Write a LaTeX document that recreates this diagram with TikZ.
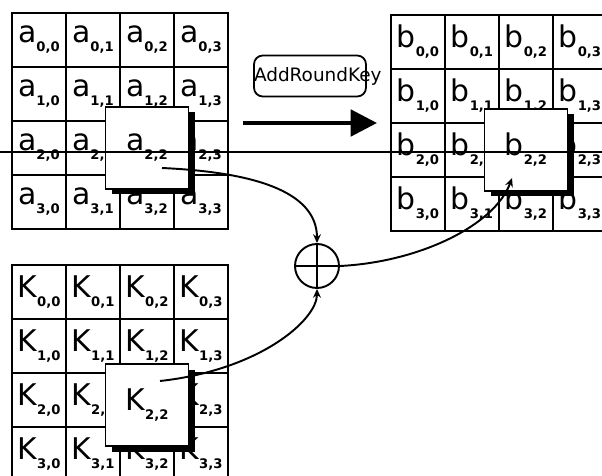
\documentclass[tikz,border=0pt]{standalone}
\usepackage{fontspec}
\setmainfont{DejaVu Sans}
\usetikzlibrary{positioning, arrows.meta, shadows}

\newcommand{\cellname}[2]{#1\raisebox{-0.55ex}{\fontsize{7.5}{8}\selectfont\bfseries #2}}

\begin{document}
\begin{tikzpicture}[
        x=0.02cm, y=-0.02cm,
        cell/.style={rectangle, draw, line width=0.7pt, minimum size=1.08cm, inner sep=0pt, font=\fontsize{17}{18}\selectfont},
        pick/.style={rectangle, draw, fill=white, line width=1.1pt, minimum width=1.66cm, minimum height=1.64cm, inner sep=0pt, font=\fontsize{17}{18}\selectfont, drop shadow={shadow xshift=3.5pt, shadow yshift=-3pt, fill=black, opacity=1}},
        opbox/.style={rectangle, draw, line width=1pt, rounded corners=5pt, minimum width=2.24cm, minimum height=0.82cm, inner sep=0pt, font=\fontsize{10.5}{11}\selectfont},
        link/.style={line width=1.1pt, -{Stealth[length=5pt, width=4.5pt]}}
    ]
    \useasboundingbox (0,0) rectangle (602,476);
    \clip (0,0) rectangle (602,476);
    % state, result and round key (cell 2,2 lies under its pick box)
    \foreach \r in {0,...,3}
        \foreach \c in {0,...,3} {
            \ifnum\r\c=22
                \node[cell] (a\r\c) at (39+54*\c, 40+54*\r) {};
                \node[cell] (b\r\c) at (418+54*\c, 42+54*\r) {};
                \node[cell] (k\r\c) at (39+54*\c, 292+54*\r) {};
            \else
                \node[cell] (a\r\c) at (39+54*\c, 40+54*\r) {\cellname{a}{\r,\c}};
                \node[cell] (b\r\c) at (418+54*\c, 42+54*\r) {\cellname{b}{\r,\c}};
                \node[cell] (k\r\c) at (39+54*\c, 292+54*\r) {\cellname{K}{\r,\c}};
            \fi
        }
    \node[pick] (apick) at (a22) {\cellname{a}{2,2}};
    \node[pick] (bpick) at (b22) {\cellname{b}{2,2}};
    \node[pick, yshift=-3pt] (kpick) at (k22) {\cellname{K}{2,2}};

    % operation
    \coordinate (arrS) at (243,123);
    \coordinate (arrE) at (377,123);
    \draw[line width=2.3pt, -{Triangle[length=15pt, width=15pt]}] (arrS) -- (arrE);
    \node[opbox] (addkey) at (310,76) {\makebox[2.24cm][l]{AddRoundKey}};

    % xor
    \node[circle, draw, line width=1.1pt, minimum size=0.88cm, inner sep=0pt] (xor) at (317,266) {};
    \draw[line width=1.1pt] (xor.north) -- (xor.south) (xor.west) -- (xor.east);

    \coordinate (asrc) at (162,168);
    \coordinate (ksrc) at (160,381);
    \coordinate (bdst) at (512,178);
    \draw[link] (asrc) .. controls (250,172) and (317,190) .. (xor.north);
    \draw[link] (ksrc) .. controls (260,370) and (317,320) .. (xor.south);
    \draw[link] (xor.east) .. controls (420,262) and (495,225) .. (bdst);

    \coordinate (cutL) at (0,152);
    \coordinate (cutR) at (602,152);
    \draw[line width=0.7pt] (cutL) -- (cutR);
\end{tikzpicture}
\end{document}
